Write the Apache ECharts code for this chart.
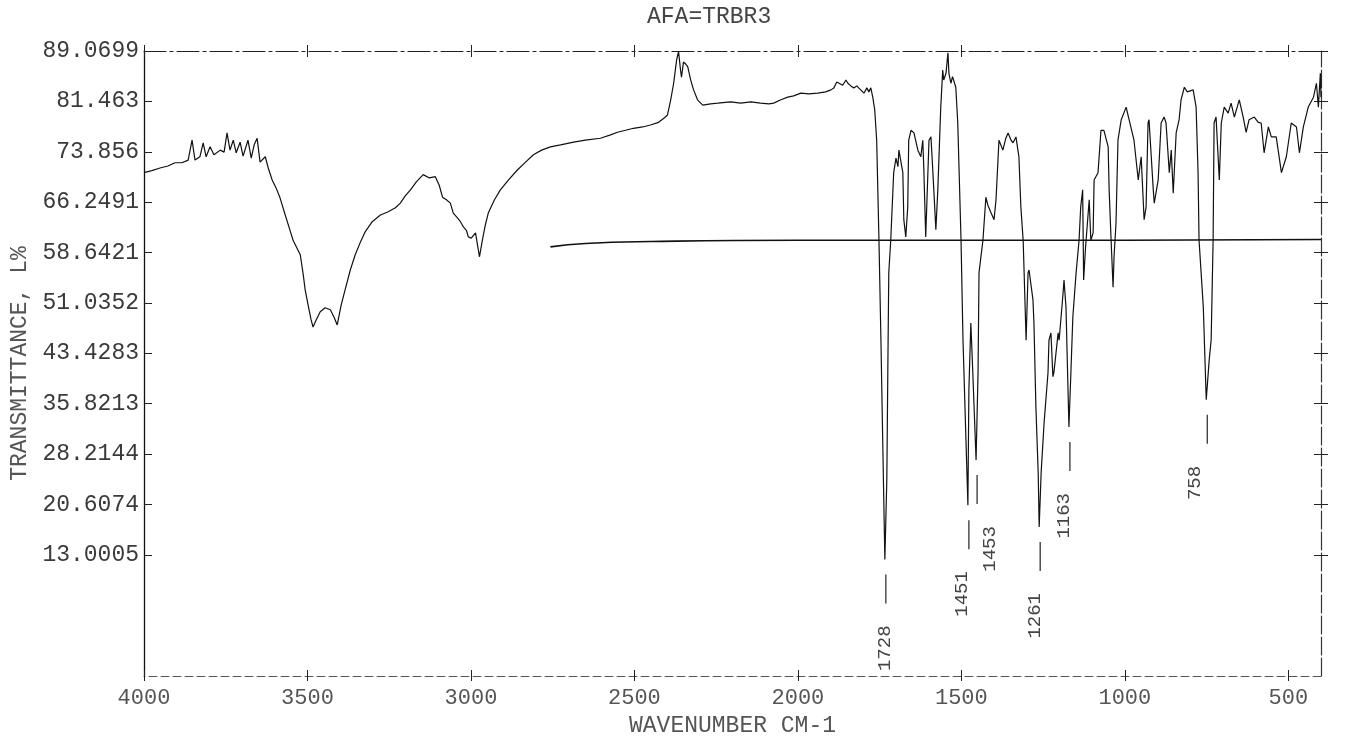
<!DOCTYPE html>
<html>
<head>
<meta charset="utf-8">
<script src="https://cdn.jsdelivr.net/npm/echarts@6/dist/echarts.min.js"></script>
<style>
html,body{margin:0;padding:0;background:#fff;}
#chart{width:1347px;height:742px;}
</style>
</head>
<body>
<div id="chart"></div>
<script>
// ---- data ----
const wavenumber = [
 4000,3976,3951,3927,3905,3884,3865,3853,3844,3829,3819,3810,3798,3786,3767,3755,3746,3737,3727,3718,
 3706,3697,3682,3672,3663,3654,3645,3629,3620,3608,3596,3584,3568,3556,3544,3532,3522,3513,3507,3498,
 3489,3483,3473,3461,3446,3430,3418,3409,3397,3385,3369,3354,3339,3323,3302,3277,3253,3231,3216,3201,
 3185,3167,3146,3127,3109,3097,3087,3075,3063,3054,3042,3032,3023,3014,3008,2999,2986,2980,2974,2965,
 2956,2947,2928,2910,2885,2858,2833,2809,2784,2757,2726,2686,2650,2604,2573,2552,2527,2503,2475,2451,
 2426,2408,2399,2389,2380,2371,2365,2359,2356,2350,2343,2337,2328,2319,2307,2291,2267,2245,2206,2175,
 2144,2114,2089,2074,2052,2031,2013,1991,1967,1939,1915,1899,1890,1881,1875,1863,1853,1847,1838,1829,
 1820,1808,1798,1789,1783,1777,1771,1765,1759,1752,1746,1740,1734,1728,1725,1722,1716,1707,1700,1694,
 1691,1685,1679,1676,1670,1664,1661,1654,1645,1633,1624,1618,1615,1609,1599,1593,1587,1578,1572,1563,
 1557,1554,1547,1541,1538,1532,1527,1517,1511,1501,1495,1486,1480,1477,1471,1465,1455,1449,1446,1434,
 1425,1419,1409,1400,1394,1385,1373,1364,1357,1348,1342,1333,1327,1324,1318,1311,1308,1302,1296,1293,
 1281,1278,1272,1265,1262,1256,1247,1235,1232,1226,1220,1217,1204,1201,1195,1189,1186,1180,1171,1165,
 1159,1149,1140,1135,1129,1126,1120,1109,1104,1097,1094,1082,1073,1064,1051,1048,1042,1036,1033,1027,
 1021,1011,996,987,972,959,950,941,935,929,926,913,910,898,889,880,874,864,858,852,
 843,834,828,818,809,803,791,782,776,773,760,751,742,736,730,727,721,711,705,696,
 684,675,665,650,638,629,620,604,592,583,574,561,552,537,521,506,491,475,466,454,
 439,423,414,408,402,400
];
const transmittance = [
 70.7,71.0,71.4,71.7,72.2,72.2,72.6,75.6,72.6,73.1,75.2,73.1,74.6,73.4,74.1,73.8,76.7,74.1,75.6,73.7,
 75.3,73.2,75.6,72.9,74.9,75.9,72.3,73.1,71.4,69.6,68.4,66.9,64.3,62.4,60.5,59.3,58.3,55.3,53.0,50.7,
 48.5,47.4,48.5,49.7,50.3,50.0,48.8,47.7,50.7,53.0,56.0,58.3,60.1,61.8,63.3,64.3,64.8,65.4,66.1,67.2,
 68.1,69.3,70.4,69.9,70.1,68.8,67.0,66.6,66.1,64.6,63.9,63.3,62.5,62.0,61.0,60.8,61.6,59.8,58.0,60.5,
 62.8,64.6,66.6,68.1,69.6,71.1,72.3,73.4,74.1,74.6,74.9,75.3,75.6,75.9,76.4,76.8,77.1,77.4,77.6,77.9,
 78.3,79.0,79.4,81.7,84.2,87.7,89.0,86.2,85.1,87.4,87.1,86.7,84.7,83.2,81.7,80.9,81.1,81.2,81.4,81.2,
 81.4,81.2,81.1,81.2,81.7,82.1,82.3,82.7,82.6,82.7,82.9,83.2,83.5,84.4,84.7,83.9,84.7,84.2,83.8,83.5,
 83.8,83.2,82.7,83.5,82.9,83.5,82.1,80.2,75.6,60.5,45.4,28.8,12.3,24.3,40.5,55.6,60.5,70.7,72.9,71.6,
 74.1,74.1,70.7,63.6,61.0,65.5,75.6,77.1,76.7,74.1,73.1,75.6,71.6,61.0,75.6,76.1,70.7,62.1,68.1,80.6,
 86.2,84.7,85.7,88.8,85.7,84.2,85.2,83.6,78.2,60.5,45.4,30.4,20.5,37.9,48.0,40.5,27.3,40.5,55.6,60.5,
 67.0,65.8,64.6,63.6,66.6,75.6,74.1,75.9,76.7,75.6,75.2,76.1,74.1,73.1,65.5,60.5,55.6,45.4,55.6,56.0,
 51.5,48.0,35.3,25.4,17.2,25.4,32.9,40.5,45.4,46.5,39.9,40.5,46.5,45.4,48.9,52.5,54.5,50.4,32.3,40.5,
 48.9,55.6,60.5,65.5,68.1,54.5,59.5,66.6,60.5,61.6,69.6,70.7,77.1,77.1,74.6,68.1,60.5,53.4,58.0,63.1,
 75.6,78.7,80.6,78.7,75.6,69.6,73.1,63.6,65.5,78.2,78.7,68.1,66.1,69.6,78.2,79.1,78.2,70.7,74.1,67.6,
 76.7,78.7,81.7,83.6,82.9,83.2,83.2,80.6,70.7,60.5,50.4,36.4,42.4,45.4,60.5,78.2,79.1,69.6,78.2,80.6,
 79.7,81.2,79.1,81.7,79.1,76.8,78.7,79.1,78.3,78.2,73.7,77.6,76.1,76.1,70.7,73.1,78.2,77.6,73.7,77.6,
 80.6,82.1,84.2,80.6,85.7,82.1
];
// second (flat) trace
const traceTwoWavenumber = [2757, 2650, 2450, 2000, 1500, 1000, 400];
const traceTwoTransmittance = [59.5, 60.0, 60.3, 60.5, 60.5, 60.5, 60.6];

// peak annotations
const peakWavenumber = [1734, 1480, 1455, 1262, 1171, 751];
const peakLabels = ['1728', '1451', '1453', '1261', '1163', '758'];

// axis ticks
const yTickLabels = ['13.0005','20.6074','28.2144','35.8213','43.4283','51.0352','58.6421','66.2491','73.856','81.463','89.0699'];
const xTickValues = [4000, 3500, 3000, 2500, 2000, 1500, 1000, 500];

const titleText = 'AFA=TRBR3';
const xName = 'WAVENUMBER CM-1';
const yName = 'TRANSMITTANCE, L%';

// ---- build ----
const yTickValues = yTickLabels.map(Number);
const spectrum = wavenumber.map((w, i) => [w, transmittance[i]]);
const traceTwo = traceTwoWavenumber.map((w, i) => [w, traceTwoTransmittance[i]]);
const peakData = peakWavenumber.map(w => {
  let best = 0;
  for (let i = 1; i < wavenumber.length; i++) {
    if (Math.abs(wavenumber[i] - w) < Math.abs(wavenumber[best] - w)) best = i;
  }
  return [w, transmittance[best]];
});
const labelShift = [-1, -7, 13, -5, -6, -12];

const FONT = '"Liberation Mono", "DejaVu Sans Mono", monospace';
const X_MIN = 400, X_MAX = 4000, Y_MIN = -5.3, Y_MAX = 89.0699;

function xAxisBase(extra) {
  return Object.assign({
    type: 'value', min: X_MIN, max: X_MAX, inverse: true,
    splitLine: {show: false},
    axisLine: {show: false, onZero: false},
    axisTick: {show: true, inside: true, length: 6, customValues: xTickValues, lineStyle: {color: '#222', width: 1}},
    axisLabel: {show: false}
  }, extra);
}
function yAxisBase(extra) {
  return Object.assign({
    type: 'value', min: Y_MIN, max: Y_MAX,
    splitLine: {show: false},
    axisLine: {show: false, onZero: false},
    axisTick: {show: true, inside: true, length: 7, customValues: yTickValues, lineStyle: {color: '#222', width: 1}},
    axisLabel: {show: false}
  }, extra);
}

const chart = echarts.init(document.getElementById('chart'), null, {renderer: 'canvas'});
chart.setOption({
  backgroundColor: '#ffffff',
  animation: false,
  title: {
    text: titleText, left: 642, top: 0,
    textStyle: {fontFamily: FONT, fontSize: 23, fontWeight: 'normal', color: '#444'}
  },
  grid: {left: 144, top: 51, right: 26, bottom: 66, containLabel: false, outerBoundsMode: 'none'},
  xAxis: [
    xAxisBase({
      position: 'bottom',
      name: xName, nameLocation: 'middle', nameGap: 38,
      nameTextStyle: {fontFamily: FONT, fontSize: 23, color: '#555'},
      axisLine: {show: true, onZero: false, lineStyle: {color: '#555', width: 1, type: [8, 4]}},
      axisLabel: {show: true, customValues: xTickValues, margin: 11, fontFamily: FONT, fontSize: 22, color: '#555',
        formatter: v => String(v)}
    }),
    xAxisBase({position: 'bottom', axisTick: {show: true, inside: false, length: 5, customValues: xTickValues, lineStyle: {color: '#222'}}}),
    xAxisBase({position: 'top', axisLine: {show: true, onZero: false, lineStyle: {color: '#222', width: 1.2, type: [22, 4, 3, 4]}}}),
    xAxisBase({position: 'top', axisTick: {show: true, inside: false, length: 6, customValues: xTickValues, lineStyle: {color: '#222'}}})
  ],
  yAxis: [
    yAxisBase({
      position: 'left',
      name: yName, nameLocation: 'middle', nameGap: 112, nameRotate: 90,
      nameTextStyle: {fontFamily: FONT, fontSize: 23, color: '#555'},
      axisLine: {show: true, onZero: false, lineStyle: {color: '#111', width: 1.3}},
      axisTick: {show: true, inside: true, length: 8, customValues: yTickValues, lineStyle: {color: '#222'}},
      axisLabel: {show: true, customValues: yTickValues, margin: 5, fontFamily: FONT, fontSize: 23, color: '#3a3a3a',
        formatter: v => {
          const i = yTickValues.findIndex(t => Math.abs(t - v) < 1e-6);
          return i >= 0 ? yTickLabels[i] : '';
        }}
    }),
    yAxisBase({position: 'right', axisLine: {show: true, onZero: false, lineStyle: {color: '#333', width: 1.2, type: [18, 3]}}}),
    yAxisBase({position: 'right', axisTick: {show: true, inside: false, length: 7, customValues: yTickValues, lineStyle: {color: '#222'}}})
  ],
  series: [
    {
      type: 'line', name: 'spectrum', data: spectrum, xAxisIndex: 0, yAxisIndex: 0,
      showSymbol: false, symbol: 'none', smooth: false, clip: true,
      lineStyle: {color: '#111', width: 1.2}
    },
    {
      type: 'line', name: 'trace2', data: traceTwo, xAxisIndex: 0, yAxisIndex: 0,
      showSymbol: false, symbol: 'none', smooth: true,
      lineStyle: {color: '#111', width: 1.6}
    },
    {
      type: 'custom', name: 'peaks', data: peakData, xAxisIndex: 0, yAxisIndex: 0, clip: false,
      renderItem: (params, api) => {
        const p = api.coord([api.value(0), api.value(1)]);
        const i = params.dataIndex;
        return {
          type: 'group',
          children: [
            {type: 'line', shape: {x1: p[0] + 1, y1: p[1] + 15, x2: p[0] + 1, y2: p[1] + 44},
             style: {stroke: '#222', lineWidth: 1.2}},
            {type: 'text', x: p[0] + 1 + labelShift[i], y: p[1] + 66, rotation: Math.PI / 2,
             style: {text: peakLabels[i], font: '19px ' + FONT, fill: '#444', align: 'right', verticalAlign: 'middle'}}
          ]
        };
      }
    }
  ]
});
</script>
</body>
</html>
